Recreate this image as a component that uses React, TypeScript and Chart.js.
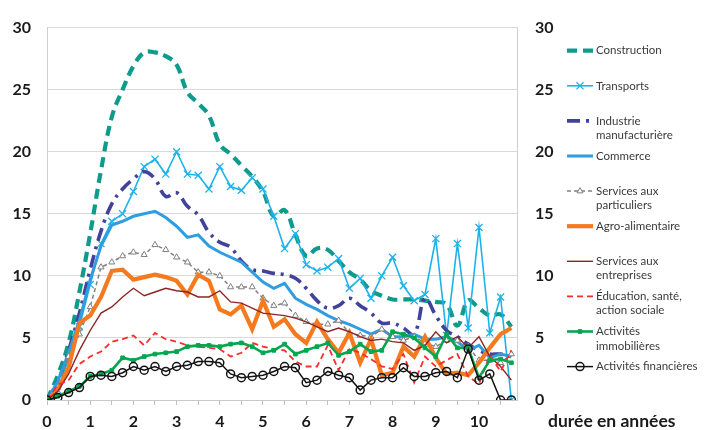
import React, { useEffect, useRef } from 'react';
import { Chart, registerables } from 'chart.js';

Chart.register(...registerables);

// Durée en années (trimestres)
const years = [
  0, 0.25, 0.5, 0.75, 1, 1.25, 1.5, 1.75, 2, 2.25, 2.5, 2.75,
  3, 3.25, 3.5, 3.75, 4, 4.25, 4.5, 4.75, 5, 5.25, 5.5, 5.75,
  6, 6.25, 6.5, 6.75, 7, 7.25, 7.5, 7.75, 8, 8.25, 8.5, 8.75,
  9, 9.25, 9.5, 9.75, 10, 10.25, 10.5, 10.75,
];

const construction = [0, 2.0, 4.6, 8.7, 13.4, 18.5, 22.8, 25.0, 26.9, 28.0, 28.0, 27.7, 27.0, 24.8, 23.9, 22.9, 20.6, 19.8, 18.9, 18.0, 16.8, 14.8, 15.3, 13.3, 11.6, 12.2, 12.1, 11.2, 10.3, 9.7, 8.8, 8.4, 8.1, 8.1, 8.1, 8.0, 7.9, 7.7, 6.0, 8.0, 7.4, 6.8, 6.9, 5.9];
const transports = [0, 0.8, 3.3, 5.9, 9.3, 12.6, 14.4, 15.0, 16.8, 18.8, 19.4, 18.2, 20.0, 18.2, 18.1, 17.0, 18.8, 17.2, 16.9, 17.9, 17.0, 14.8, 12.2, 13.4, 10.9, 10.4, 10.7, 11.4, 9.0, 9.8, 8.2, 10.0, 11.5, 9.2, 8.0, 8.5, 13.0, 5.2, 12.6, 5.8, 13.9, 5.4, 8.3, 0];
const industrie = [0, 1.5, 4.0, 7.0, 10.5, 13.6, 15.8, 17.0, 17.8, 18.4, 17.8, 16.4, 16.7, 15.6, 14.9, 13.5, 12.7, 12.3, 11.2, 10.5, 10.4, 10.2, 10.1, 9.8, 9.0, 8.0, 7.4, 7.6, 8.2, 7.6, 7.0, 6.2, 6.2, 5.8, 5.3, 8.2, 6.8, 5.6, 5.1, 4.5, 4.0, 3.7, 3.7, 3.5];
const commerce = [0, 1.5, 3.8, 6.4, 9.7, 12.4, 14.1, 14.4, 14.8, 15.0, 15.2, 14.7, 14.0, 13.1, 13.3, 12.4, 11.9, 11.5, 11.1, 10.3, 9.5, 9.0, 9.4, 8.2, 7.7, 7.3, 6.8, 6.4, 6.1, 5.7, 5.3, 5.7, 5.1, 5.1, 5.3, 4.9, 4.9, 5.1, 4.7, 4.0, 4.4, 3.4, 3.7, 3.5];
const servicesParticuliers = [0, 1.0, 3.5, 5.3, 7.5, 10.7, 11.1, 11.6, 11.9, 11.7, 12.5, 12.1, 11.5, 11.1, 10.3, 10.3, 10.0, 9.1, 9.1, 9.1, 8.2, 7.6, 7.8, 6.8, 6.3, 6.1, 6.1, 6.4, 5.4, 5.2, 5.1, 5.7, 5.1, 4.8, 5.1, 4.6, 4.3, 4.8, 4.8, 4.3, 3.2, 3.2, 3.0, 3.7];
const agroAlimentaire = [0, 0.8, 2.6, 6.2, 6.8, 8.3, 10.4, 10.5, 9.7, 9.9, 10.1, 9.9, 9.6, 8.5, 10.1, 9.6, 7.3, 6.9, 7.6, 5.7, 8.0, 5.9, 6.5, 5.3, 4.6, 6.3, 4.9, 3.8, 5.4, 3.0, 4.9, 2.0, 2.2, 4.3, 3.5, 5.1, 3.4, 2.1, 2.2, 2.0, 3.0, 4.2, 5.3, 5.8];
const servicesEntreprises = [0, 0.7, 2.1, 4.0, 5.6, 7.0, 7.5, 8.3, 9.0, 8.4, 8.7, 9.0, 8.8, 8.7, 8.3, 8.3, 8.8, 7.9, 7.8, 7.4, 7.0, 6.9, 6.8, 6.6, 6.3, 5.9, 5.5, 5.8, 5.5, 5.1, 4.8, 4.9, 4.7, 4.6, 4.0, 4.4, 5.5, 4.6, 5.1, 4.2, 5.1, 3.5, 2.7, 1.6];
const education = [0, 1.2, 1.6, 2.9, 3.5, 3.9, 4.7, 4.9, 5.2, 4.4, 5.4, 4.9, 4.7, 4.4, 4.3, 4.2, 4.1, 3.5, 3.8, 4.6, 4.3, 4.1, 4.0, 3.1, 2.7, 2.7, 4.4, 2.4, 4.1, 3.8, 3.3, 2.7, 2.5, 3.7, 1.4, 3.5, 2.7, 3.2, 3.7, 1.9, 1.3, 3.6, 2.3, 4.0];
const immobilieres = [0, 0.3, 0.7, 1.1, 1.9, 2.1, 2.4, 3.4, 3.2, 3.5, 3.7, 3.8, 3.9, 4.3, 4.4, 4.4, 4.3, 4.5, 4.6, 4.3, 3.8, 4.0, 4.5, 3.7, 4.0, 4.3, 4.6, 3.6, 3.9, 4.5, 3.9, 4.0, 5.5, 5.3, 5.0, 4.2, 3.5, 5.3, 4.2, 4.2, 1.8, 3.2, 3.3, 3.0];
const financieres = [0, 0.2, 0.6, 1.0, 1.9, 2.0, 1.9, 2.2, 2.7, 2.4, 2.7, 2.3, 2.7, 2.8, 3.1, 3.1, 3.0, 2.1, 1.8, 1.9, 2.0, 2.3, 2.7, 2.6, 1.4, 1.6, 2.3, 2.0, 1.8, 0.8, 1.6, 1.8, 1.8, 2.6, 1.9, 1.9, 2.2, 2.3, 1.8, 4.1, 1.6, 2.1, 0, 0];

const seriesLabels = [
  'Construction',
  'Transports',
  'Industrie manufacturière',
  'Commerce',
  'Services aux particuliers',
  'Agro-alimentaire',
  'Services aux entreprises',
  'Éducation, santé, action sociale',
  'Activités immobilières',
  'Activités financières',
];
const legendLines = [
  ['Construction'],
  ['Transports'],
  ['Industrie', 'manufacturière'],
  ['Commerce'],
  ['Services aux', 'particuliers'],
  ['Agro-alimentaire'],
  ['Services aux', 'entreprises'],
  ['Éducation, santé,', 'action sociale'],
  ['Activités', 'immobilières'],
  ['Activités financières'],
];
const yTicks = [0, 5, 10, 15, 20, 25, 30];
const xAxisTitle = 'durée en années';

const seriesValues = [
  construction, transports, industrie, commerce, servicesParticuliers,
  agroAlimentaire, servicesEntreprises, education, immobilieres, financieres,
];

type Style = {
  color: string; width: number; dash?: number[]; tension?: number;
  point?: string; radius?: number; pointFill?: string; pointWidth?: number;
};

const styles: Style[] = [
  { color: '#0e9b8c', width: 4.2, dash: [10, 6], tension: 0.4 },
  { color: '#1db3ea', width: 1.6, point: 'crossRot', radius: 5, pointFill: 'transparent', pointWidth: 1.3 },
  { color: '#41429c', width: 3.6, dash: [13, 6, 3, 6], tension: 0.4 },
  { color: '#2f9de0', width: 3 },
  { color: '#808080', width: 1.5, dash: [4, 3], point: 'triangle', radius: 3.5, pointFill: '#ffffff', pointWidth: 1 },
  { color: '#f47a20', width: 4.2 },
  { color: '#8c2424', width: 1.4 },
  { color: '#ff2a2a', width: 1.8, dash: [6, 4] },
  { color: '#07a650', width: 2.6, point: 'rect', radius: 2.6, pointFill: '#07a650', pointWidth: 1 },
  { color: '#141414', width: 1.5, point: 'circle', radius: 4, pointFill: 'transparent', pointWidth: 1.5 },
];

function drawMarker(ctx: CanvasRenderingContext2D, st: Style, x: number, y: number) {
  if (!st.point) return;
  const r = st.radius || 3;
  ctx.save();
  ctx.setLineDash([]);
  ctx.lineWidth = st.pointWidth || 1;
  ctx.strokeStyle = st.color;
  ctx.fillStyle = st.pointFill || st.color;
  ctx.beginPath();
  if (st.point === 'crossRot') {
    const d = r * 0.7071;
    ctx.moveTo(x - d, y - d); ctx.lineTo(x + d, y + d);
    ctx.moveTo(x + d, y - d); ctx.lineTo(x - d, y + d);
    ctx.stroke();
  } else if (st.point === 'triangle') {
    ctx.moveTo(x, y - r);
    ctx.lineTo(x + r * 0.866, y + r * 0.5);
    ctx.lineTo(x - r * 0.866, y + r * 0.5);
    ctx.closePath(); ctx.fill(); ctx.stroke();
  } else if (st.point === 'rect') {
    const d = r * 0.7071;
    ctx.rect(x - d, y - d, 2 * d, 2 * d); ctx.fill(); ctx.stroke();
  } else if (st.point === 'circle') {
    ctx.arc(x, y, r, 0, Math.PI * 2); ctx.fill(); ctx.stroke();
  }
  ctx.restore();
}

const legendPlugin = {
  id: 'sideLegend',
  afterDraw(chart: any) {
    const ctx: CanvasRenderingContext2D = chart.ctx;
    const ca = chart.chartArea;
    ctx.save();
    const x0 = ca.right + 50;
    const x1 = x0 + 26;
    seriesLabels.forEach((_, i) => {
      const st = styles[i];
      const y = 50.7 + i * 35.1;
      ctx.save();
      ctx.strokeStyle = st.color;
      ctx.lineWidth = st.width;
      ctx.setLineDash(st.dash || []);
      ctx.beginPath();
      ctx.moveTo(x0, y);
      ctx.lineTo(x1, y);
      ctx.stroke();
      ctx.restore();
      drawMarker(ctx, st, (x0 + x1) / 2, y);
      ctx.fillStyle = '#3a3a3a';
      ctx.font = '11.5px Lato';
      ctx.textBaseline = 'middle';
      ctx.textAlign = 'left';
      legendLines[i].forEach((line, j) => ctx.fillText(line, x1 + 3, y + j * 14.3));
    });
    ctx.font = 'bold 17.5px Lato';
    ctx.fillStyle = '#1a1a1a';
    ctx.textBaseline = 'middle';
    ctx.fillText(xAxisTitle, ca.right + 31, 421);
    ctx.restore();
  },
};

export default function App() {
  const ref = useRef<HTMLCanvasElement>(null);
  useEffect(() => {
    if (!ref.current) return;
    Chart.defaults.font.family = 'Lato';
    const datasets = seriesValues.map((vals, i) => {
      const st = styles[i];
      return {
        label: seriesLabels[i],
        data: vals.map((v, k) => ({ x: years[k], y: v })),
        borderColor: st.color,
        backgroundColor: st.color,
        borderWidth: st.width,
        borderDash: st.dash || [],
        tension: st.tension || 0,
        pointStyle: st.point || 'circle',
        pointRadius: st.point ? st.radius : 0,
        pointHoverRadius: st.point ? st.radius : 0,
        pointBackgroundColor: st.pointFill || st.color,
        pointBorderColor: st.color,
        pointBorderWidth: st.pointWidth || 1,
        fill: false,
        order: seriesLabels.length - i,
      };
    });
    const tickFont = { family: 'Lato', size: 16, weight: 'bold' as const };
    const chart = new Chart(ref.current, {
      type: 'line',
      data: { datasets },
      plugins: [legendPlugin],
      options: {
        animation: false,
        responsive: false,
        devicePixelRatio: 1,
        layout: { padding: { top: 26, left: 0, right: 0, bottom: 0 } },
        plugins: { legend: { display: false }, tooltip: { enabled: false } },
        scales: {
          x: {
            type: 'linear',
            min: 0,
            max: 10.88,
            afterFit: (s: any) => { s.height = 30; },
            grid: { drawOnChartArea: false, drawTicks: true, tickLength: 5, color: '#bfbfbf' },
            border: { display: true, color: '#c8c8c8' },
            ticks: {
              stepSize: 0.5,
              includeBounds: false,
              autoSkip: false,
              maxRotation: 0,
              padding: 7,
              color: '#1a1a1a',
              font: tickFont,
              callback: (v: any) => (Number.isInteger(v) ? String(v) : ''),
            },
          },
          y: {
            position: 'left',
            min: yTicks[0],
            max: yTicks[yTicks.length - 1],
            afterFit: (s: any) => { s.width = 47; },
            grid: { color: '#d9d9d9', drawTicks: false },
            border: { display: true, color: '#d0d0d0' },
            ticks: { stepSize: 5, padding: 16, color: '#1a1a1a', font: tickFont },
          },
          y2: {
            position: 'right',
            min: yTicks[0],
            max: yTicks[yTicks.length - 1],
            afterFit: (s: any) => { s.width = 189; },
            grid: { drawOnChartArea: false, drawTicks: false },
            border: { display: true, color: '#d0d0d0' },
            ticks: { stepSize: 5, padding: 18, color: '#1a1a1a', font: tickFont },
          },
        },
      },
    });
    return () => chart.destroy();
  }, []);
  return (
    <div style={{ position: 'absolute', left: 0, top: 0, width: 706, height: 430, background: '#ffffff' }}>
      <canvas ref={ref} width={706} height={430} />
    </div>
  );
}
